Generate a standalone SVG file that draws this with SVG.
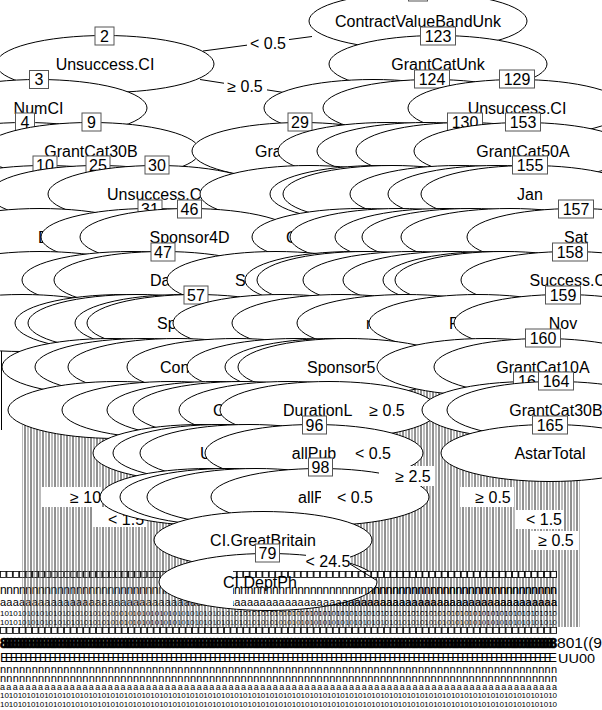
<svg xmlns="http://www.w3.org/2000/svg" xmlns:xlink="http://www.w3.org/1999/xlink" width="602" height="710" viewBox="0 0 602 710">
<style>
.e{fill:#fff;stroke:#000;stroke-width:1}
.lb{font-family:"Liberation Sans",Arial,sans-serif;font-size:16px;text-anchor:middle;fill:#000}
.ls{font-family:"Liberation Sans",Arial,sans-serif;font-size:16px;text-anchor:start;fill:#000}
.bx{fill:#fff;stroke:#555;stroke-width:1}
.bn{font-family:"Liberation Sans",Arial,sans-serif;font-size:16px;text-anchor:middle;fill:#000}
.el{font-family:"Liberation Sans",Arial,sans-serif;font-size:16px;text-anchor:middle;fill:#000}
.wb{fill:#fff;stroke:none}
.cl{stroke:#000;stroke-width:1;fill:none}
.r{font-family:"Liberation Sans",Arial,sans-serif;fill:#000}
</style>
<defs>
<pattern id="vl" x="0" y="0" width="6" height="20" patternUnits="userSpaceOnUse">
<line x1="1" y1="0" x2="1" y2="20" stroke="#222" stroke-width="1"/>
<line x1="4" y1="0" x2="4" y2="20" stroke="#777" stroke-width="1"/>
</pattern>
<pattern id="bxp" x="0" y="3" width="6.4" height="8" patternUnits="userSpaceOnUse">
<rect x="0.5" y="0.5" width="5.4" height="6" fill="#fff" stroke="#000" stroke-width="0.8"/>
</pattern>
<clipPath id="cr"><rect x="233" y="570" width="324" height="42"/></clipPath>
</defs>
<rect x="0" y="0" width="602" height="710" fill="#fff"/>

<g id="terminal-rows">
<g id="rowsTop">
<rect x="0" y="571" width="557" height="7" fill="url(#bxp)"/>
<text class="r" x="0" y="594" font-size="12" textLength="557" lengthAdjust="spacing">nnnnnnnnnnnnnnnnnnnnnnnnnnnnnnnnnnnnnnnnnnnnnnnnnnnnnnnnnnnnnnnnnnnnnnnnnnnnnnnnnnnnnnnn</text>
<text class="r" x="0" y="606" font-size="11" textLength="557" lengthAdjust="spacing">aaaaaaaaaaaaaaaaaaaaaaaaaaaaaaaaaaaaaaaaaaaaaaaaaaaaaaaaaaaaaaaaaaaaaaaaaaaaaaaaaaaaaaaa</text>
<text class="r" x="0" y="616" font-size="8" textLength="557" lengthAdjust="spacing">101010101010101010101010101010101010101010101010101010101010101010101010101010101010101010101010101010101010101010101010101010</text>
<text class="r" x="0" y="625" font-size="8" textLength="557" lengthAdjust="spacing">101010101010101010101010101010101010101010101010101010101010101010101010101010101010101010101010101010101010101010101010101010</text>
</g>
<rect x="0" y="627" width="557" height="7" fill="url(#bxp)"/>
<text class="r" x="0" y="648" font-size="14" font-weight="bold" stroke="#000" stroke-width="0.7" textLength="557" lengthAdjust="spacing">888888888888888888888888888888888888888888888888888888888888888888888888888888888888888888888888888888888888888888888888888888888888888888888888888888</text>
<text class="r" x="557" y="648" font-size="14" textLength="45" lengthAdjust="spacingAndGlyphs">801((9</text>
<text class="r" x="0" y="662" font-size="13" fill="#222" textLength="557" lengthAdjust="spacing">EEEEEEEEEEEEEEEEEEEEEEEEEEEEEEEEEEEEEEEEEEEEEEEEEEEEEEEEEEEEEEEEEEEEEEEEEEEEEEEEEEEEEEEEEEEEEEEEEEEEEEEEEEEEEEEEEE</text>
<text class="r" x="558" y="663" font-size="13" textLength="37" lengthAdjust="spacingAndGlyphs">UU00</text>
<text class="r" x="0" y="673" font-size="11" textLength="557" lengthAdjust="spacing">nnnnnnnnnnnnnnnnnnnnnnnnnnnnnnnnnnnnnnnnnnnnnnnnnnnnnnnnnnnnnnnnnnnnnnnnnnnnnnnnnnnnnnnn</text>
<text class="r" x="0" y="682" font-size="11" textLength="557" lengthAdjust="spacing">nnnnnnnnnnnnnnnnnnnnnnnnnnnnnnnnnnnnnnnnnnnnnnnnnnnnnnnnnnnnnnnnnnnnnnnnnnnnnnnnnnnnnnnn</text>
<text class="r" x="0" y="690" font-size="9" textLength="557" lengthAdjust="spacing">aaaaaaaaaaaaaaaaaaaaaaaaaaaaaaaaaaaaaaaaaaaaaaaaaaaaaaaaaaaaaaaaaaaaaaaaaaaaaaaaaaaaaaaa</text>
<text class="r" x="0" y="698" font-size="8" textLength="557" lengthAdjust="spacing">101010101010101010101010101010101010101010101010101010101010101010101010101010101010101010101010101010101010101010101010101010</text>
<text class="r" x="0" y="707" font-size="8" textLength="557" lengthAdjust="spacing">101010101010101010101010101010101010101010101010101010101010101010101010101010101010101010101010101010101010101010101010101010</text>
</g>

<g id="connectors">
<rect x="22" y="425" width="178" height="202" fill="url(#vl)"/>
<rect x="200" y="395" width="380" height="232" fill="url(#vl)"/>
<rect x="340" y="345" width="100" height="50" fill="url(#vl)"/>
<line class="cl" x1="1.5" y1="95" x2="1.5" y2="430"/>
<line class="cl" x1="203" y1="51" x2="312" y2="36.5"/>
<line class="cl" x1="200" y1="79.5" x2="300" y2="95"/>
<line class="cl" x1="197" y1="168" x2="232" y2="175"/>
<rect class="wb" x="247" y="33" width="42" height="20"/>
<text class="el" x="268" y="49">&lt; 0.5</text>
<rect class="wb" x="224" y="76" width="43" height="20"/>
<text class="el" x="245" y="92">≥ 0.5</text>
<text class="ls" x="232" y="176">0.5</text>
<rect class="wb" x="42" y="487" width="60" height="20"/>
<text class="ls" x="70" y="503">≥ 10</text>
<rect class="wb" x="92" y="507" width="55" height="20"/>
<text class="ls" x="108" y="525">&lt; 1.5</text>
</g>

<g id="nodes">
<g id="node1"><ellipse class="e" cx="418" cy="21" rx="109" ry="28.5"/><text class="lb" x="418" y="27">ContractValueBandUnk</text><rect class="bx" x="408.5" y="-17" width="19" height="18"/><text class="bn" x="418" y="-2.5">1</text></g>

<g id="node2"><ellipse class="e" cx="105" cy="64" rx="109" ry="28.5"/><text class="lb" x="105" y="70">Unsuccess.CI</text><rect class="bx" x="95" y="27" width="19" height="18"/><text class="bn" x="104.5" y="41.5">2</text></g>
<g id="node123"><ellipse class="e" cx="438" cy="64" rx="109" ry="28.5"/><text class="lb" x="438" y="70">GrantCatUnk</text><rect class="bx" x="420.5" y="27" width="35" height="18"/><text class="bn" x="438" y="41.5">123</text></g>

<g id="node3"><ellipse class="e" cx="38" cy="108" rx="109" ry="28.5"/><text class="lb" x="38.5" y="114">NumCI</text><rect class="bx" x="29.5" y="70.5" width="19" height="18"/><text class="bn" x="39" y="85">3</text></g>
<g id="e2a"><ellipse class="e" cx="373" cy="108" rx="109" ry="28.5"/></g>
<g id="node124"><ellipse class="e" cx="432" cy="108" rx="109" ry="28.5"/><rect class="bx" x="414.5" y="70" width="35" height="18"/><text class="bn" x="432" y="84.5">124</text></g>
<g id="node129"><ellipse class="e" cx="517" cy="108" rx="109" ry="28.5"/><text class="lb" x="517" y="114">Unsuccess.CI</text><rect class="bx" x="499.5" y="70" width="35" height="18"/><text class="bn" x="517" y="84.5">129</text></g>

<g id="node4"><ellipse class="e" cx="25" cy="151" rx="109" ry="28.5"/><rect class="bx" x="15.5" y="113" width="19" height="18"/><text class="bn" x="25" y="127.5">4</text></g>
<g id="node9"><ellipse class="e" cx="91" cy="151" rx="109" ry="28.5"/><text class="lb" x="91" y="157">GrantCat30B</text><rect class="bx" x="82" y="113" width="19" height="18"/><text class="bn" x="91.5" y="127.5">9</text></g>
<g id="node29"><ellipse class="e" cx="301" cy="151" rx="109" ry="28.5"/><text class="ls" x="255" y="157">Gra</text><rect class="bx" x="288" y="113" width="24" height="18"/><text class="bn" x="300" y="127.5">29</text></g>
<g id="e3a"><ellipse class="e" cx="387" cy="151" rx="109" ry="28.5"/></g>
<g id="e3b"><ellipse class="e" cx="426" cy="151" rx="109" ry="28.5"/></g>
<g id="node130"><ellipse class="e" cx="465" cy="151" rx="109" ry="28.5"/><rect class="bx" x="447.5" y="113" width="35" height="18"/><text class="bn" x="465" y="127.5">130</text></g>
<g id="node153"><ellipse class="e" cx="523" cy="151" rx="109" ry="28.5"/><text class="lb" x="523" y="157">GrantCat50A</text><rect class="bx" x="505.5" y="113" width="35" height="18"/><text class="bn" x="523" y="127.5">153</text></g>

<g id="node10"><ellipse class="e" cx="45" cy="194" rx="109" ry="28.5"/><rect class="bx" x="33" y="156" width="24" height="18"/><text class="bn" x="45" y="170.5">10</text></g>
<g id="node25"><ellipse class="e" cx="98" cy="194" rx="109" ry="28.5"/><rect class="bx" x="86" y="156" width="24" height="18"/><text class="bn" x="98" y="170.5">25</text></g>
<g id="node30"><ellipse class="e" cx="157" cy="194" rx="109" ry="28.5"/><text class="ls" x="107" y="200">Unsuccess.C</text><rect class="bx" x="145" y="156" width="24" height="18"/><text class="bn" x="157" y="170.5">30</text></g>
<g id="e4a"><ellipse class="e" cx="309" cy="194" rx="109" ry="28.5"/></g>
<g id="e4b"><ellipse class="e" cx="379" cy="194" rx="109" ry="28.5"/></g>
<g id="e4c"><ellipse class="e" cx="392" cy="194" rx="109" ry="28.5"/></g>
<g id="e4d"><ellipse class="e" cx="459" cy="194" rx="109" ry="28.5"/></g>
<g id="e4e"><ellipse class="e" cx="497" cy="194" rx="109" ry="28.5"/></g>
<g id="node155"><ellipse class="e" cx="530" cy="194" rx="109" ry="28.5"/><text class="lb" x="530" y="200">Jan</text><rect class="bx" x="512.5" y="156" width="35" height="18"/><text class="bn" x="530" y="170.5">155</text></g>

<g id="e5a"><ellipse class="e" cx="40" cy="237" rx="109" ry="28.5"/><text class="ls" x="38" y="243">D</text></g>
<g id="node31"><ellipse class="e" cx="150" cy="237" rx="109" ry="28.5"/><rect class="bx" x="138" y="200" width="24" height="18"/><text class="bn" x="150" y="214.5">31</text></g>
<g id="node46"><ellipse class="e" cx="189" cy="237" rx="109" ry="28.5"/><text class="lb" x="189.5" y="243">Sponsor4D</text><rect class="bx" x="177.5" y="200" width="24" height="18"/><text class="bn" x="189.5" y="214.5">46</text></g>
<g id="e5b"><ellipse class="e" cx="361" cy="237" rx="109" ry="28.5"/><text class="ls" x="286" y="243">C</text></g>
<g id="e5c"><ellipse class="e" cx="399" cy="237" rx="109" ry="28.5"/></g>
<g id="e5d"><ellipse class="e" cx="444" cy="237" rx="109" ry="28.5"/></g>
<g id="e5e"><ellipse class="e" cx="471" cy="237" rx="109" ry="28.5"/></g>
<g id="e5f"><ellipse class="e" cx="510" cy="237" rx="109" ry="28.5"/></g>
<g id="node157"><ellipse class="e" cx="576" cy="237" rx="109" ry="28.5"/><text class="lb" x="576" y="243">Sat</text><rect class="bx" x="558.5" y="200" width="35" height="18"/><text class="bn" x="576" y="214.5">157</text></g>

<g id="e6a"><ellipse class="e" cx="40" cy="280" rx="109" ry="28.5"/></g>
<g id="e6b"><ellipse class="e" cx="131" cy="280" rx="109" ry="28.5"/></g>
<g id="node47"><ellipse class="e" cx="163" cy="280" rx="109" ry="28.5"/><text class="ls" x="150" y="286">Da</text><rect class="bx" x="151" y="243" width="24" height="18"/><text class="bn" x="163" y="257.5">47</text></g>
<g id="e6c"><ellipse class="e" cx="276" cy="280" rx="109" ry="28.5"/><text class="ls" x="235" y="286">S</text></g>
<g id="e6d"><ellipse class="e" cx="354" cy="280" rx="109" ry="28.5"/></g>
<g id="e6e"><ellipse class="e" cx="366" cy="280" rx="109" ry="28.5"/></g>
<g id="e6f"><ellipse class="e" cx="412" cy="280" rx="109" ry="28.5"/></g>
<g id="e6g"><ellipse class="e" cx="452" cy="280" rx="109" ry="28.5"/></g>
<g id="e6h"><ellipse class="e" cx="492" cy="280" rx="109" ry="28.5"/></g>
<g id="e6i"><ellipse class="e" cx="504" cy="280" rx="109" ry="28.5"/></g>
<g id="node158"><ellipse class="e" cx="570" cy="280" rx="109" ry="28.5"/><text class="lb" x="570" y="286">Success.CI</text><rect class="bx" x="552.5" y="243" width="35" height="18"/><text class="bn" x="570" y="257.5">158</text></g>

<g id="e7a"><ellipse class="e" cx="22" cy="323" rx="109" ry="28.5"/></g>
<g id="e7b"><ellipse class="e" cx="124" cy="323" rx="109" ry="28.5"/></g>
<g id="e7c"><ellipse class="e" cx="137" cy="323" rx="109" ry="28.5"/></g>
<g id="e7d"><ellipse class="e" cx="184" cy="323" rx="109" ry="28.5"/></g>
<g id="node57"><ellipse class="e" cx="196" cy="323" rx="109" ry="28.5"/><text class="ls" x="157" y="329">Sp</text><rect class="bx" x="184" y="286" width="24" height="18"/><text class="bn" x="196" y="300.5">57</text></g>
<g id="e7e"><ellipse class="e" cx="282" cy="323" rx="109" ry="28.5"/></g>
<g id="e7f"><ellipse class="e" cx="341" cy="323" rx="109" ry="28.5"/></g>
<g id="e7g"><ellipse class="e" cx="406" cy="323" rx="109" ry="28.5"/><text class="ls" x="366" y="329">r</text></g>
<g id="e7h"><ellipse class="e" cx="478" cy="323" rx="109" ry="28.5"/><text class="ls" x="449" y="329">R</text></g>
<g id="node159"><ellipse class="e" cx="563" cy="323" rx="109" ry="28.5"/><text class="lb" x="563" y="329">Nov</text><rect class="bx" x="545.5" y="286" width="35" height="18"/><text class="bn" x="563" y="300.5">159</text></g>

<g id="e8a"><ellipse class="e" cx="111" cy="367" rx="109" ry="28.5"/></g>
<g id="e8b"><ellipse class="e" cx="144" cy="367" rx="109" ry="28.5"/></g>
<g id="e8c"><ellipse class="e" cx="177" cy="367" rx="109" ry="28.5"/></g>
<g id="e8d"><ellipse class="e" cx="236" cy="367" rx="109" ry="28.5"/><text class="ls" x="160" y="373">Con</text></g>
<g id="e8e"><ellipse class="e" cx="296" cy="367" rx="109" ry="28.5"/></g>
<g id="e8f"><ellipse class="e" cx="334" cy="367" rx="109" ry="28.5"/></g>
<g id="e8g"><ellipse class="e" cx="347" cy="367" rx="109" ry="28.5"/><text class="ls" x="307" y="373">Sponsor5</text></g>
<g id="e8h"><ellipse class="e" cx="486" cy="367" rx="109" ry="28.5"/></g>
<g id="node160"><ellipse class="e" cx="543" cy="367" rx="109" ry="28.5"/><text class="lb" x="543" y="373">GrantCat10A</text><rect class="bx" x="525.5" y="329" width="35" height="18"/><text class="bn" x="543" y="343.5">160</text></g>

<g id="e9a"><ellipse class="e" cx="117" cy="410" rx="109" ry="28.5"/></g>
<g id="e9b"><ellipse class="e" cx="171" cy="410" rx="109" ry="28.5"/></g>
<g id="e9c"><ellipse class="e" cx="216" cy="410" rx="109" ry="28.5"/></g>
<g id="e9d"><ellipse class="e" cx="242" cy="410" rx="109" ry="28.5"/></g>
<g id="e9e"><ellipse class="e" cx="288" cy="410" rx="109" ry="28.5"/><text class="ls" x="213" y="416">C</text></g>
<g id="e9f"><ellipse class="e" cx="329" cy="410" rx="109" ry="28.5"/><text class="ls" x="283" y="416">DurationL</text></g>
<g id="node16x"><ellipse class="e" cx="531" cy="410" rx="109" ry="28.5"/><rect class="bx" x="513.5" y="372" width="35" height="18"/><text class="ls" x="518" y="386.5">16</text></g>
<g id="node164"><ellipse class="e" cx="556" cy="410" rx="109" ry="28.5"/><text class="lb" x="556" y="416">GrantCat30B</text><rect class="bx" x="538.5" y="372" width="35" height="18"/><text class="bn" x="556" y="386.5">164</text></g>

<g id="e10a"><ellipse class="e" cx="202" cy="453" rx="109" ry="28.5"/></g>
<g id="e10b"><ellipse class="e" cx="222" cy="453" rx="109" ry="28.5"/></g>
<g id="e10c"><ellipse class="e" cx="249" cy="453" rx="109" ry="28.5"/><text class="ls" x="200" y="459">U</text></g>
<g id="node96"><ellipse class="e" cx="314" cy="453" rx="109" ry="28.5"/><text class="lb" x="314" y="459">allPub</text><rect class="bx" x="302.5" y="416" width="24" height="18"/><text class="bn" x="314.5" y="430.5">96</text></g>
<g id="node165"><ellipse class="e" cx="550" cy="453" rx="109" ry="28.5"/><text class="lb" x="550" y="459">AstarTotal</text><rect class="bx" x="532.5" y="416" width="35" height="18"/><text class="bn" x="550" y="430.5">165</text></g>

<g id="e11a"><ellipse class="e" cx="209" cy="497" rx="109" ry="28.5"/></g>
<g id="e11b"><ellipse class="e" cx="229" cy="497" rx="109" ry="28.5"/></g>
<g id="e11c"><ellipse class="e" cx="256" cy="497" rx="109" ry="28.5"/></g>
<g id="node98"><ellipse class="e" cx="320" cy="497" rx="109" ry="28.5"/><text class="ls" x="298" y="503">allP</text><rect class="bx" x="308.5" y="458" width="24" height="18"/><text class="bn" x="320.5" y="472.5">98</text></g>

<g id="e12a"><ellipse class="e" cx="263" cy="540" rx="109" ry="28.5"/><text class="lb" x="263" y="546">CI.GreatBritain</text></g>

<g id="node79"><ellipse class="e" cx="268" cy="582" rx="109" ry="28.5"/><rect class="bx" x="255.5" y="544" width="24" height="18"/><text class="bn" x="267.5" y="558.5">79</text></g>
</g>

<g id="terminal-rows-over">
<use xlink:href="#rowsTop" href="#rowsTop" clip-path="url(#cr)"/>
<text class="ls" x="223" y="588">CI.DeptPh</text>
</g>

<g id="edge-labels">
<rect class="wb" x="362" y="400" width="50" height="20"/>
<text class="el" x="387" y="416">≥ 0.5</text>
<rect class="wb" x="350" y="443" width="47" height="20"/>
<text class="el" x="373" y="459">&lt; 0.5</text>
<rect class="wb" x="379" y="466" width="56" height="20"/>
<text class="el" x="413" y="482">≥ 2.5</text>
<rect class="wb" x="321" y="487" width="56" height="20"/>
<text class="el" x="355" y="503">&lt; 0.5</text>
<rect class="wb" x="460" y="487" width="54" height="20"/>
<text class="el" x="493" y="503">≥ 0.5</text>
<rect class="wb" x="515" y="510" width="49" height="19"/>
<text class="el" x="544" y="525">&lt; 1.5</text>
<rect class="wb" x="531" y="531" width="48" height="19"/>
<text class="el" x="556" y="546">≥ 0.5</text>
<rect class="wb" x="306" y="551" width="44" height="17"/>
<text class="el" x="328" y="567">&lt; 24.5</text>
<line class="cl" x1="350" y1="564" x2="376" y2="580"/>
</g>
</svg>
